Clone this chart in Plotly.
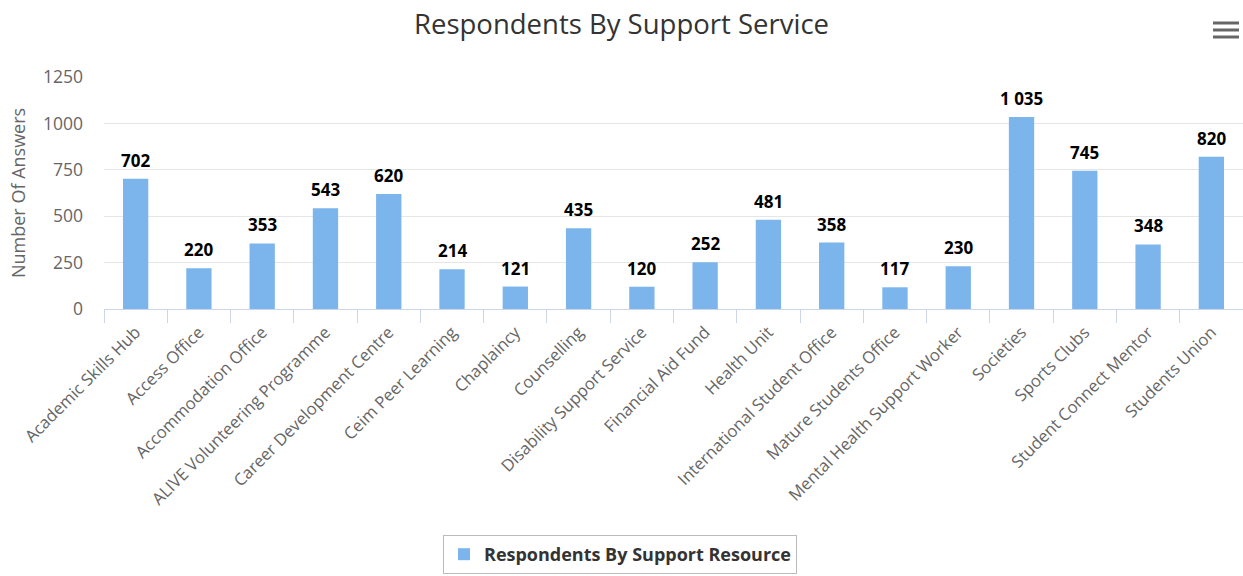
import plotly.graph_objects as go

categories = [
    "Academic Skills Hub", "Access Office", "Accommodation Office",
    "ALIVE Volunteering Programme", "Career Development Centre",
    "Ceim Peer Learning", "Chaplaincy", "Counselling",
    "Disability Support Service", "Financial Aid Fund", "Health Unit",
    "International Student Office", "Mature Students Office",
    "Mental Health Support Worker", "Societies", "Sports Clubs",
    "Student Connect Mentor", "Students Union",
]
respondents = [702, 220, 353, 543, 620, 214, 121, 435, 120, 252,
               481, 358, 117, 230, 1035, 745, 348, 820]
y_ticks = [0, 250, 500, 750, 1000, 1250]

FONT = "Open Sans, DejaVu Sans, sans-serif"
BAR = "#7cb5ec"


def fmt(v):
    # thousands separated by a space, e.g. 1 035
    return f"{v:,}".replace(",", " ")


fig = go.Figure()
fig.add_trace(go.Bar(
    x=categories,
    y=respondents,
    name="Respondents By Support Resource",
    marker=dict(color=BAR, line=dict(width=0)),
    width=0.4,
    hoverinfo="x+y",
))

# value labels above the bars
for c, v in zip(categories, respondents):
    fig.add_annotation(
        x=c, y=v, text=f"<b>{fmt(v)}</b>", showarrow=False,
        yanchor="bottom", yshift=5,
        font=dict(family=FONT, size=17, color="#000000"),
    )

# y-axis title
fig.add_annotation(
    xref="paper", yref="paper", x=-0.0755, y=0.5, text="Number Of Answers",
    textangle=-90, showarrow=False, xanchor="center", yanchor="middle",
    font=dict(family=FONT, size=18, color="#666666"),
)

# context-menu (hamburger) icon, top right
PW, PH, L, B = 1139, 232, 104, 309
for py in (23, 30, 37):
    fig.add_shape(
        type="line", xref="paper", yref="paper",
        x0=(1213 - L) / PW, x1=(1239 - L) / PW,
        y0=(B - py) / PH, y1=(B - py) / PH,
        line=dict(color="#666666", width=3),
    )

fig.update_layout(
    width=1243, height=576,
    margin=dict(l=104, r=0, t=77, b=267),
    paper_bgcolor="white", plot_bgcolor="white",
    font=dict(family=FONT, color="#666666"),
    title=dict(
        text="Respondents By Support Service",
        x=0.5, xref="container", xanchor="center",
        y=1 - 24 / 576, yref="container", yanchor="middle",
        font=dict(family=FONT, size=27.5, color="#333333"),
    ),
    showlegend=True,
    legend=dict(
        orientation="h", x=(620 - L) / PW, xanchor="center",
        y=(B - 535) / PH, yanchor="top",
        bordercolor="#bbbbbb", borderwidth=1, bgcolor="white",
        font=dict(family=FONT, size=18, color="#333333", weight="bold"),
    ),
    xaxis=dict(
        type="category", tickson="boundaries", ticks="outside",
        ticklen=13, tickcolor="#ccd6eb", tickwidth=1,
        showline=True, linecolor="#ccd6eb", linewidth=1,
        showgrid=False, tickangle=-45, ticklabelstandoff=6,
        tickfont=dict(family=FONT, size=16.7, color="#666666"),
    ),
    yaxis=dict(
        range=[0, 1250], tickvals=y_ticks,
        ticktext=[str(t) for t in y_ticks],
        showgrid=True, gridcolor="#e6e6e6", gridwidth=1,
        zeroline=False, showline=False, ticks="",
        ticklabelstandoff=20,
        tickfont=dict(family=FONT, size=17.5, color="#666666"),
    ),
    bargap=0.6,
)

fig.write_html("out.html")
